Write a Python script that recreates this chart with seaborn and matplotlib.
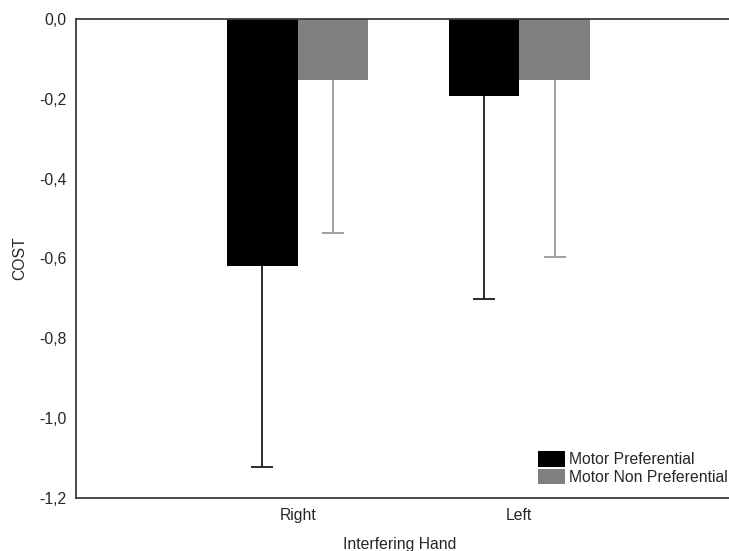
import matplotlib
matplotlib.use("Agg")
import matplotlib.pyplot as plt
import matplotlib.patches as mpatches
from matplotlib.ticker import FuncFormatter
import numpy as np
import pandas as pd
import seaborn as sns

# Mean cost per interfering hand and motor condition, with lower error extent
hands = ["Right", "Left"]
conditions = ["Motor Preferential", "Motor Non Preferential"]
cost_preferential = [-0.618, -0.193]
cost_non_preferential = [-0.153, -0.153]
err_preferential = [0.505, 0.508]
err_non_preferential = [0.382, 0.442]

colors = {"Motor Preferential": "#000000", "Motor Non Preferential": "#808080"}
err_colors = {"Motor Preferential": "#1a1a1a", "Motor Non Preferential": "#999999"}

df = pd.DataFrame({
    "hand": hands * 2,
    "condition": [conditions[0]] * 2 + [conditions[1]] * 2,
    "cost": cost_preferential + cost_non_preferential,
    "err": err_preferential + err_non_preferential,
})

sns.set_style("white")
plt.rcParams["font.family"] = ["Liberation Sans", "DejaVu Sans"]
plt.rcParams["text.color"] = "#262626"

W, H = 729, 551
fig = plt.figure(figsize=(W / 100, H / 100), dpi=100)
ax = fig.add_axes([76 / W, (H - 498) / H, (741 - 76) / W, (498 - 19) / H])

sns.barplot(data=df, x="hand", y="cost", hue="condition", order=hands,
            hue_order=conditions, palette=colors, errorbar=None,
            width=0.635, gap=0, saturation=1, edgecolor="none",
            linewidth=0, legend=False, ax=ax)

# One-sided (downward) error bars at each bar centre; the cap sits only at the far end
for cond, cont in zip(conditions, ax.containers):
    sub = df[df["condition"] == cond].set_index("hand").loc[hands]
    xs = [p.get_x() + p.get_width() / 2 for p in cont.patches]
    ys = sub["cost"].to_numpy()
    lo = sub["err"].to_numpy()
    _, caps, _ = ax.errorbar(xs, ys, yerr=[lo, np.zeros_like(lo)], fmt="none",
                             ecolor=err_colors[cond], elinewidth=1.3, capsize=8,
                             capthick=1.3, zorder=3)
    for cap in caps:
        if np.allclose(cap.get_ydata(), ys):
            cap.set_visible(False)

ax.set_xlim(-1, 2)
ax.set_ylim(-1.2, 0)
ax.set_yticks(np.arange(0, -1.21, -0.2))
ax.yaxis.set_major_formatter(FuncFormatter(lambda v, _: f"{v:.1f}".replace(".", ",").replace("-0,0", "0,0")))

for s in ax.spines.values():
    s.set_color("#3c3c3c")
    s.set_linewidth(1.3)
ax.tick_params(direction="in", length=4, width=1, color="#3c3c3c",
               labelsize=11.3, labelcolor="#262626", pad=7)

ax.set_xlabel("")
ax.set_ylabel("")
fig.text(400 / W, 1 - 545 / H, "Interfering Hand", ha="center", va="center",
         fontsize=11.3, color="#262626")
fig.text(20 / W, 1 - 258 / H, "COST", ha="center", va="center",
         rotation=90, fontsize=11.3, color="#262626")

handles = [mpatches.Patch(facecolor=colors[c], edgecolor="none", label=c)
           for c in conditions]
fig.legend(handles=handles, loc="upper left",
           bbox_to_anchor=(538 / W, 1 - 451 / H), frameon=False,
           fontsize=11.3, handlelength=1.7, handleheight=1.15,
           handletextpad=0.25, labelspacing=0.1, borderpad=0,
           borderaxespad=0)

fig.savefig("out.png", dpi=100)
